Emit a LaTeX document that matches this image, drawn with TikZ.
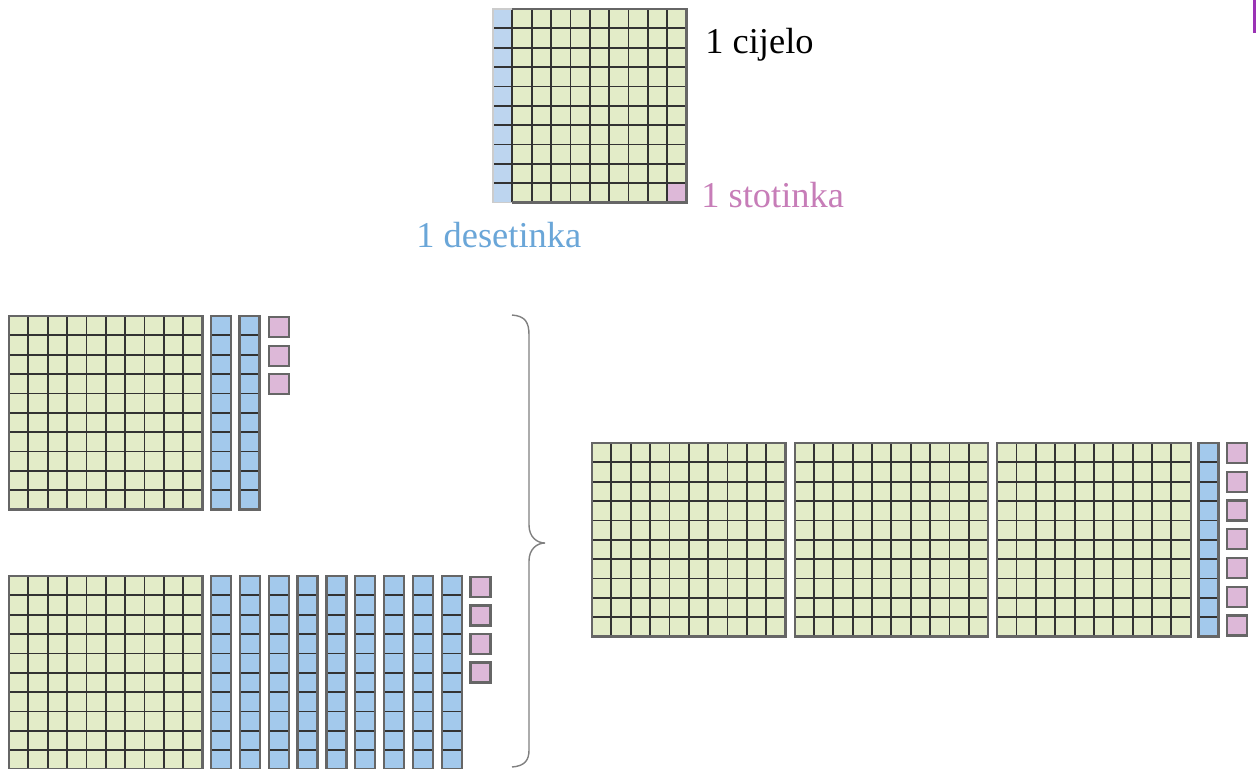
\documentclass[tikz,border=0pt]{standalone}
\usepackage{fontspec}
\setmainfont{Liberation Serif}
\definecolor{gfill}{HTML}{E3ECC8}
\definecolor{bfill}{HTML}{A3C9EC}
\definecolor{blight}{HTML}{BDD5EF}
\definecolor{pfill}{HTML}{DDB8D8}
\definecolor{btext}{HTML}{6AA6D8}
\definecolor{ptext}{HTML}{C77DB8}
\definecolor{purplebar}{HTML}{9B33B5}
\newcommand{\cs}{19.35}
\tikzset{
  gline/.style={draw=black!80, line width=0.9pt},
  gborder/.style={draw=black!60, line width=1.1pt},
  lbl/.style={inner sep=0pt, font=\fontsize{18.2}{20}\selectfont},
  hundred/.pic={
    \fill[gfill] (0,0) rectangle (193.5,193.5);
    \foreach \i in {1,...,9}{
      \draw[gline] (\i*\cs,0) -- (\i*\cs,193.5);
      \draw[gline] (0,\i*\cs) -- (193.5,\i*\cs);
    }
    \draw[gborder] (0,0) rectangle (193.5,193.5);
  },
  tenth/.pic={
    \fill[bfill] (0,0) rectangle (20,193.5);
    \foreach \i in {1,...,9}{
      \draw[gline] (0,\i*\cs) -- (20,\i*\cs);
    }
    \draw[gborder] (0,0) rectangle (20,193.5);
  },
  hundredth/.pic={
    \fill[pfill] (0,0) rectangle (20,20);
    \draw[gborder] (0,0) rectangle (20,20);
  }
}
\begin{document}
\begin{tikzpicture}[x=0.5pt,y=-0.5pt]
\useasboundingbox (0,0) rectangle (1257,768);
\fill[white] (0,0) rectangle (1257,768);
% top model
\begin{scope}[shift={(493,9)}]
  \fill[gfill] (0,0) rectangle (193.5,193.5);
  \fill[blight] (0,0) rectangle (\cs,193.5);
  \fill[pfill] (9*\cs,9*\cs) rectangle (193.5,193.5);
  \foreach \i in {1,...,9}{
    \draw[gline] (\i*\cs,0) -- (\i*\cs,193.5);
    \draw[gline] (0,\i*\cs) -- (193.5,\i*\cs);
  }
  \draw[draw=black!20, line width=0.9pt] (\cs,0) -- (0,0) -- (0,193.5) -- (\cs,193.5);
  \draw[gborder] (\cs,0) -- (193.5,0) -- (193.5,193.5) -- (\cs,193.5);
\end{scope}
\node[lbl, anchor=base west] (cijelo) at (705,53) {1 cijelo};
\node[lbl, anchor=base west, text=ptext] (stotinka) at (701,207) {1 stotinka};
\node[lbl, anchor=base west, text=btext] (desetinka) at (416,247) {1 desetinka};
% left top group: 1.23
\pic at (9,316) {hundred};
\pic at (211,316) {tenth};
\pic at (239.5,316) {tenth};
\foreach \k in {0,1,2}{ \pic at (269,317+\k*28.6) {hundredth}; }
% left bottom group: 1.94
\pic at (9,576) {hundred};
\foreach \k in {0,...,8}{ \pic at (211+\k*28.85,576) {tenth}; }
\foreach \k in {0,...,3}{ \pic at (470.5,577+\k*28.5) {hundredth}; }
% brace
\draw[draw=black!50, line width=0.7pt]
  (512,315) .. controls (525,316) and (529,322) .. (529,335) -- (529,525)
  .. controls (529,537) and (537,543) .. (545,543)
  .. controls (537,543) and (529,549) .. (529,561) -- (529,750)
  .. controls (529,760) and (525,766) .. (512,767);
% right group: 3.17
\foreach \k in {0,1,2}{ \pic at (592+\k*202.6,443) {hundred}; }
\pic at (1198.5,443) {tenth};
\foreach \k in {0,...,6}{ \pic at (1227,443+\k*28.75) {hundredth}; }
% purple bar at top right
\fill[purplebar] (1252.5,0) rectangle (1256,33);
\end{tikzpicture}
\end{document}
